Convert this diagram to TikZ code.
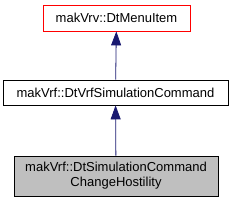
\documentclass[tikz,border=0pt]{standalone}
\usepackage{fontspec}
\setmainfont{Liberation Sans}
\usetikzlibrary{arrows.meta}
\definecolor{edgeblue}{HTML}{191970}
\definecolor{boxgray}{HTML}{BFBFBF}

\begin{document}
\begin{tikzpicture}[
  x=1pt, y=-1pt,
  every node/.style={draw, rectangle, inner sep=0pt, line width=0.8pt, font=\fontsize{13}{15}\selectfont, align=center},
  redbox/.style={draw=red, minimum width=147pt, minimum height=26pt},
  plainbox/.style={draw=black, minimum width=225pt, minimum height=25pt},
  curbox/.style={draw=black, fill=boxgray, minimum width=204pt, minimum height=40pt},
  inherit/.style={draw=edgeblue, line width=0.8pt, -{Triangle[width=10pt,length=14pt,fill=edgeblue]}}
  ]
\useasboundingbox (0,0) rectangle (235,203);

% 클래스 상자
\node[redbox] (menuitem) at (116.5,18) {makVrv::DtMenuItem};
\node[plainbox] (vrfcmd) at (115.5,92.5) {makVrf::DtVrfSimulationCommand};
\node[curbox] (hostility) at (116,176) {makVrf::DtSimulationCommand\\ChangeHostility};

\draw[inherit] (vrfcmd) -- (menuitem);
\draw[inherit] (hostility) -- (vrfcmd);

\end{tikzpicture}
\end{document}
